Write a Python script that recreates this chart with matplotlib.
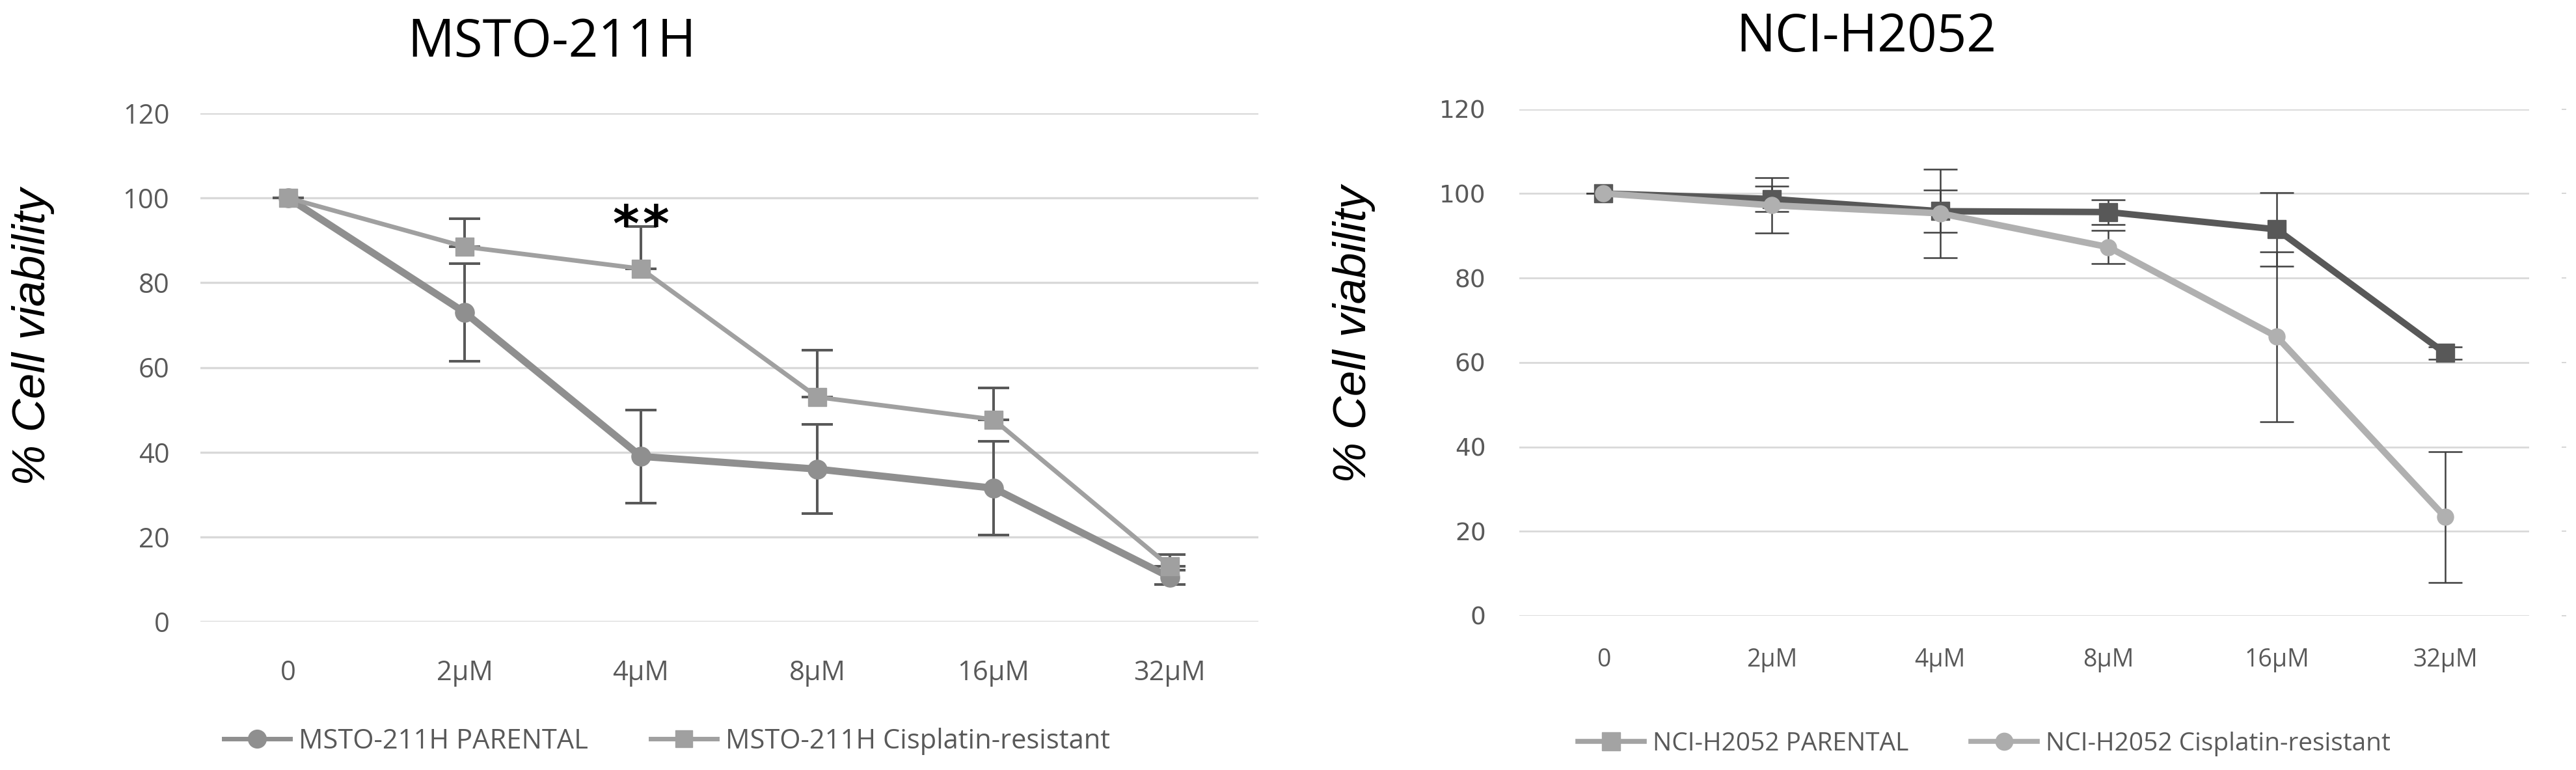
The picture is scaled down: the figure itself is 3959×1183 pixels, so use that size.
import numpy as np
import matplotlib.pyplot as plt
from matplotlib.lines import Line2D

# data
doses = ['0', '2µM', '4µM', '8µM', '16µM', '32µM']

msto_par = [100, 73, 39, 36, 31.5, 10.5]
msto_par_err = [0, 11.5, 11, 10.5, 11, 1.7]
msto_res = [100, 88.5, 83.3, 53, 47.7, 13]
msto_res_err = [0, 6.6, 10, 11, 7.5, 2.9]   # only the upper bars are drawn

nci_par = [100, 98.7, 95.8, 95.6, 91.5, 62.2]
nci_par_err = [0, 3, 5, 2.9, 8.7, 1.5]
nci_res = [100, 97.2, 95.3, 87.3, 66.1, 23.4]
nci_res_err = [0, 6.5, 10.5, 3.9, 20.1, 15.5]

yticks = [0, 20, 40, 60, 80, 100, 120]

W, H = 3959, 1183
fig = plt.figure(figsize=(W / 100, H / 100), dpi=100)

tickfont = 'Open Sans'
x = np.arange(len(doses))


def base_axes(rect, labsize, xpad, ypad, gridlw):
    ax = fig.add_axes(rect)
    ax.set_xlim(-0.5, len(doses) - 0.5)
    ax.set_ylim(0, 120)
    ax.set_yticks(yticks)
    ax.set_xticks(x, doses)
    for s in ax.spines.values():
        s.set_visible(False)
    ax.grid(axis='y', color='#d9d9d9', lw=gridlw)
    ax.set_axisbelow(True)
    ax.tick_params(axis='both', length=0, labelsize=labsize, labelcolor='#595959')
    ax.tick_params(axis='x', pad=xpad)
    ax.tick_params(axis='y', pad=ypad)
    for lab in ax.get_xticklabels() + ax.get_yticklabels():
        lab.set_fontfamily(tickfont)
    return ax


# ---- MSTO-211H ----
ax1 = base_axes([307.5 / W, 1 - 955 / H, 1626 / W, 781 / H], 30, 42, 34, 2.4)

ax1.errorbar(x, msto_par, yerr=msto_par_err, fmt='none', ecolor='#595959',
             elinewidth=2.9, capsize=17, capthick=2.9, zorder=2)
ax1.errorbar(x, msto_res, yerr=[np.zeros(len(x)), msto_res_err], fmt='none',
             ecolor='#595959', elinewidth=2.9, capsize=17, capthick=2.9, zorder=2)
ax1.plot(x, msto_par, color='#8f8f8f', lw=7.9, marker='o', ms=21, zorder=3)
ax1.plot(x, msto_res, color='#a0a0a0', lw=5, marker='s', ms=19.5, zorder=4)

# significance mark over 4µM, two stars a little apart
for dx in (-0.085, 0.085):
    ax1.text(2 + dx, 89.8, '*', ha='center', va='baseline', fontsize=56,
             fontweight='bold', family='DejaVu Sans', color='black')

fig.text(848 / W, 1 - 87 / H, 'MSTO-211H', ha='center', va='baseline',
         fontsize=57.5, family=tickfont, color='black')
fig.text(51 / W, 1 - 517 / H, '% Cell viability', rotation=90, ha='center',
         va='center', fontsize=51, style='italic', family='Liberation Sans')

h1 = [Line2D([], [], color='#8f8f8f', lw=5, marker='o', ms=20),
      Line2D([], [], color='#a0a0a0', lw=5, marker='s', ms=19)]
fig.legend(h1, ['MSTO-211H PARENTAL', 'MSTO-211H Cisplatin-resistant'],
           loc='center left', bbox_to_anchor=(344 / W, 1 - 1139 / H), ncol=2,
           frameon=False, borderpad=0, borderaxespad=0, handlelength=2.45,
           handletextpad=0.31, columnspacing=2.3, numpoints=1,
           prop={'family': tickfont, 'size': 30}, labelcolor='#595959')

# ---- NCI-H2052 ----
ax2 = base_axes([2335 / W, 1 - 946 / H, 1552 / W, 778.5 / H], 27, 35, 32, 2.0)

ax2.errorbar(x, nci_par, yerr=nci_par_err, fmt='none', ecolor='#404040',
             elinewidth=1.8, capsize=18.7, capthick=1.8, zorder=2)
ax2.errorbar(x, nci_res, yerr=nci_res_err, fmt='none', ecolor='#404040',
             elinewidth=1.8, capsize=18.7, capthick=1.8, zorder=2)
ax2.plot(x, nci_par, color='#585858', lw=7.2, marker='s', ms=20, zorder=3)
ax2.plot(x, nci_res, color='#b0b0b0', lw=7.2, marker='o', ms=18, zorder=4)

# faint ticks of an unused right axis
ax2.spines['right'].set_position(('outward', 36))
ax2.tick_params(axis='y', right=True, labelright=False, length=5, width=1.2,
                color='#d0d0d0', left=False)

fig.text(2868 / W, 1 - 79 / H, 'NCI-H2052', ha='center', va='baseline',
         fontsize=57.5, family=tickfont, color='black')
fig.text(2081 / W, 1 - 513 / H, '% Cell viability', rotation=90, ha='center',
         va='center', fontsize=51, style='italic', family='Liberation Sans')

h2 = [Line2D([], [], color='#a3a3a3', lw=5.5, marker='s', ms=20),
      Line2D([], [], color='#adadad', lw=5.5, marker='o', ms=19)]
fig.legend(h2, ['NCI-H2052 PARENTAL', 'NCI-H2052 Cisplatin-resistant'],
           loc='center left', bbox_to_anchor=(2425 / W, 1 - 1143 / H), ncol=2,
           frameon=False, borderpad=0, borderaxespad=0, handlelength=2.62,
           handletextpad=0.33, columnspacing=2.47, numpoints=1,
           prop={'family': tickfont, 'size': 28}, labelcolor='#595959')

fig.savefig('out.png', dpi=100)
